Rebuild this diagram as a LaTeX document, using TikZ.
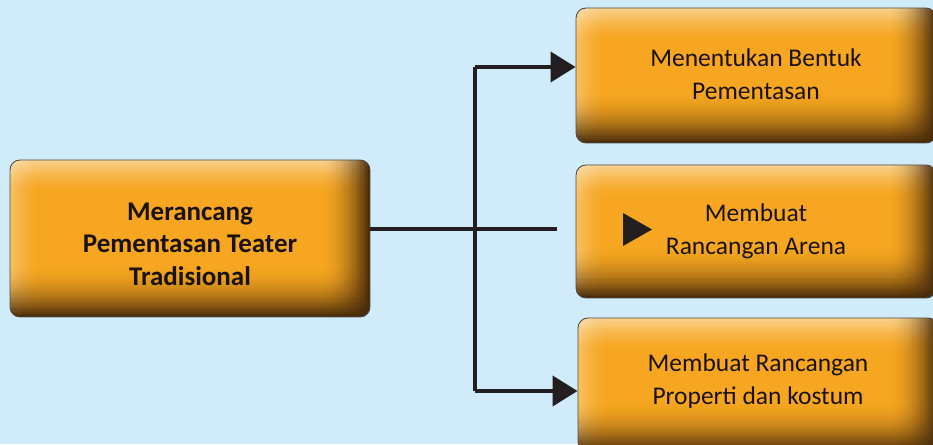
\documentclass[tikz,border=0pt]{standalone}
\usepackage{fontspec}
\setmainfont{Carlito}
\usetikzlibrary{arrows.meta}
\definecolor{bgblue}{HTML}{D0ECFA}
\definecolor{boxorange}{HTML}{F6A620}
\definecolor{darkbrown}{HTML}{46290A}
\definecolor{linec}{HTML}{231F20}
\definecolor{textc}{HTML}{1A1212}
\tikzset{
  fancybox/.style={rounded corners=10pt, draw=black!70, line width=0.9pt, fill=boxorange,
    text=textc, align=center, inner sep=0pt,
    path picture={
      \foreach \i in {1,...,30}{
        \pgfmathsetmacro\opw{0.5*((31-\i)/30)^1.6}
        \pgfmathsetmacro\opl{0.3*((31-\i)/30)^1.6}
        \fill[white, opacity=\opw, sharp corners]
          ([yshift={-(\i-1)*1.1pt}]path picture bounding box.north west) rectangle
          ([yshift={-\i*1.1pt}]path picture bounding box.north east);
        \fill[white, opacity=\opl, sharp corners]
          ([xshift={(\i-1)*1.0pt}]path picture bounding box.south west) rectangle
          ([xshift={\i*1.0pt}]path picture bounding box.north west);
      }
      \foreach \i in {1,...,30}{
        \pgfmathsetmacro\opd{0.97*(\i/30)^1.9}
        \fill[darkbrown, opacity=\opd, sharp corners]
          ([yshift={(30-\i)*1.7pt}]path picture bounding box.south west) rectangle
          ([yshift={(31-\i)*1.7pt}]path picture bounding box.south east);
        \fill[darkbrown, opacity=\opd, sharp corners]
          ([xshift={-(30-\i)*1.6pt}]path picture bounding box.south east) rectangle
          ([xshift={-(31-\i)*1.6pt}]path picture bounding box.north east);
      }
    }},
  mainfont/.style={font=\fontsize{27}{32.5}\selectfont\bfseries},
  subfont/.style={font=\fontsize{25.5}{33}\selectfont},
  conn/.style={draw=linec, line width=4pt},
  tip/.style={-{Triangle[length=25pt,width=30pt]}}
}
\begin{document}
\begin{tikzpicture}[x=1pt,y=1pt]
\useasboundingbox (0,0) rectangle (933,444);
\fill[bgblue] (0,0) rectangle (933,444);
\begin{scope}
\clip (0,0) rectangle (933,444);
\node[fancybox, mainfont, minimum width=360pt, minimum height=157pt] (main) at (190,205.5)
  {\rule{0pt}{29pt}Merancang\\Pementasan Teater\\Tradisional};
\node[fancybox, subfont, minimum width=360pt, minimum height=135pt] (b1) at (756,368.5)
  {Menentukan Bentuk\\Pementasan\rule[-3pt]{0pt}{1pt}};
\node[fancybox, subfont, minimum width=360pt, minimum height=133pt] (b2) at (756,212.5)
  {Membuat\\Rancangan Arena};
\node[fancybox, subfont, minimum width=360pt, minimum height=134pt] (b3) at (758,59)
  {Membuat Rancangan\\Properti dan kostum\rule[-11pt]{0pt}{1pt}};
\end{scope}
\coordinate (j) at (475,215);
\coordinate (t) at (475,377);
\coordinate (b) at (475,53);
\coordinate (m) at (557,215);
\draw[conn] (main.east |- j) -- (m);
\draw[conn] (b) -- (t);
\draw[conn, tip] (t) -- (t -| b1.west);
\draw[conn, tip] (b) -- (b -| b3.west);
\fill[linec] (623,231) -- (652,214.5) -- (623,198) -- cycle;
\end{tikzpicture}
\end{document}
